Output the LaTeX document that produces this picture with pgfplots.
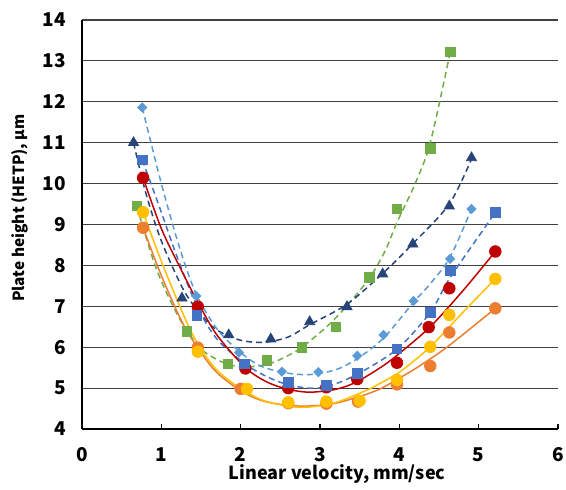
\documentclass[border=0pt]{standalone}
\usepackage{fontspec}
\setmainfont{Noto Sans CJK JP}
\usepackage{pgfplots}
\pgfplotsset{compat=1.18}
\definecolor{cnavy}{HTML}{264478}
\definecolor{cblue}{HTML}{4472C4}
\definecolor{clblue}{HTML}{5B9BD5}
\definecolor{cgreen}{HTML}{70AD47}
\definecolor{cred}{HTML}{C00000}
\definecolor{cyellow}{HTML}{FFC000}
\definecolor{corange}{HTML}{ED7D31}
\begin{document}
\begin{tikzpicture}
\useasboundingbox (-41pt,-30.5pt) rectangle (242pt,214.5pt);
\begin{axis}[
  scale only axis, width=238pt, height=204.5pt,
  xmin=0, xmax=6, ymin=4, ymax=14,
  xtick={0,1,2,3,4,5,6}, ytick={4,5,6,7,8,9,10,11,12,13,14},
  axis x line*=bottom, axis y line*=left,
  axis line style={line width=0.65pt, black},
  ymajorgrids, grid style={black!75, line width=0.55pt},
  tick align=inside, major tick length=2.5pt,
  xtick style={black, line width=0.6pt},
  ytick style={draw=none},
  /pgf/number format/assume math mode=true,
  tick label style={font=\fontsize{9.5}{10}\selectfont\bfseries},
  yticklabel style={inner sep=0pt, xshift=-8pt},
  xticklabel style={inner sep=0pt, yshift=-9pt},
  xlabel={Linear velocity, mm/sec},
  ylabel={Plate height (HETP), μm},
  xlabel style={font=\fontsize{9}{10}\selectfont\bfseries, at={(axis description cs:0.536,-0.111)}, anchor=center},
  ylabel style={font=\fontsize{7.7}{9}\selectfont\bfseries, at={(axis description cs:-0.130,0.540)}, anchor=center},
  clip=false,
]
% ---- trend curves ----
\addplot[cgreen, line width=0.75pt, dash pattern=on 3pt off 2pt, smooth] coordinates {
(0.69,9.45)(0.94,7.9)(1.235,6.68)(1.49,5.98)(1.7,5.7)(1.9,5.55)(2.12,5.52)(2.4,5.62)(2.75,5.97)(3.17,6.66)(3.59,7.6)(3.82,8.35)(3.97,9.05)(4.2,10.0)(4.39,11.0)(4.64,13.2)};
\addplot[cnavy, line width=0.75pt, dash pattern=on 3pt off 2pt, smooth] coordinates {
(0.65,11.0)(0.8,9.8)(1.0,8.6)(1.28,7.4)(1.5,6.8)(1.7,6.42)(2.0,6.17)(2.3,6.12)(2.6,6.25)(2.87,6.55)(3.34,7.05)(3.8,7.82)(4.18,8.55)(4.63,9.5)(4.91,10.6)};
\addplot[clblue, line width=0.75pt, dash pattern=on 3pt off 2pt, smooth] coordinates {
(0.76,11.86)(1.0,10.0)(1.235,8.4)(1.44,7.3)(1.7,6.45)(1.98,5.9)(2.24,5.55)(2.54,5.38)(2.87,5.33)(3.2,5.45)(3.47,5.72)(3.8,6.22)(4.18,7.1)(4.39,7.55)(4.64,8.2)(4.91,9.38)};
\addplot[cblue, line width=0.75pt, dash pattern=on 3pt off 2pt, smooth] coordinates {
(0.76,10.58)(1.0,9.3)(1.2,8.2)(1.45,7.0)(1.7,6.2)(2.05,5.6)(2.33,5.28)(2.6,5.08)(2.87,5.0)(3.1,5.04)(3.46,5.33)(3.97,5.95)(4.39,6.85)(4.64,7.7)(5.21,9.29)};
\addplot[cred, line width=0.75pt, smooth] coordinates {
(0.77,10.14)(1.0,8.9)(1.235,7.95)(1.46,7.1)(1.70,6.3)(2.06,5.5)(2.33,5.15)(2.6,4.97)(2.87,4.9)(3.2,4.97)(3.46,5.15)(3.76,5.5)(3.97,5.8)(4.39,6.5)(4.81,7.4)(5.21,8.34)};
\addplot[corange, line width=0.75pt, smooth] coordinates {
(0.77,8.92)(1.0,7.75)(1.26,6.62)(1.46,5.98)(1.7,5.38)(2.03,4.9)(2.33,4.66)(2.75,4.56)(3.17,4.62)(3.59,4.85)(3.76,4.98)(4.18,5.45)(4.6,6.0)(5.21,6.95)};
\addplot[cyellow, line width=0.75pt, smooth] coordinates {
(0.77,9.30)(1.0,8.1)(1.3,6.7)(1.47,6.05)(1.7,5.44)(2.03,4.95)(2.33,4.67)(2.75,4.53)(3.17,4.63)(3.59,4.95)(3.76,5.12)(4.01,5.4)(4.39,6.01)(4.81,6.87)(5.21,7.67)};
% ---- data markers ----
\addplot[only marks, mark=square*, mark size=2.4pt, mark options={draw=cgreen, fill=cgreen}] coordinates {
(0.69,9.45)(1.32,6.38)(1.84,5.59)(2.33,5.67)(2.77,5.99)(3.20,6.50)(3.62,7.70)(3.97,9.38)(4.39,10.86)(4.64,13.22)};
\addplot[only marks, mark=triangle*, mark size=2.9pt, mark options={draw=cnavy, fill=cnavy}] coordinates {
(0.65,11.0)(1.26,7.2)(1.85,6.3)(2.38,6.2)(2.87,6.62)(3.34,6.99)(3.79,7.79)(4.17,8.52)(4.63,9.45)(4.91,10.63)};
\addplot[only marks, mark=square*, mark size=1.6pt, mark options={rotate=45, draw=clblue, fill=clblue}] coordinates {
(0.76,11.86)(1.44,7.25)(1.98,5.87)(2.52,5.40)(2.98,5.39)(3.47,5.79)(3.80,6.30)(4.18,7.13)(4.64,8.16)(4.91,9.38)};
\addplot[only marks, mark=*, mark size=2.9pt, mark options={draw=corange, fill=corange}] coordinates {
(0.77,8.92)(1.46,5.99)(2.00,4.98)(2.60,4.63)(3.08,4.62)(3.48,4.67)(3.97,5.09)(4.39,5.54)(4.63,6.36)(5.21,6.95)};
\addplot[only marks, mark=*, mark size=2.9pt, mark options={draw=cyellow, fill=cyellow}] coordinates {
(0.77,9.30)(1.46,5.89)(2.08,4.98)(2.60,4.65)(3.08,4.67)(3.50,4.69)(3.97,5.20)(4.39,6.01)(4.63,6.79)(5.21,7.67)};
\addplot[only marks, mark=*, mark size=2.9pt, mark options={draw=cred, fill=cred}] coordinates {
(0.77,10.14)(1.46,6.99)(2.06,5.48)(2.60,5.00)(3.08,5.02)(3.47,5.22)(3.97,5.62)(4.37,6.49)(4.63,7.44)(5.21,8.34)};
\addplot[only marks, mark=square*, mark size=2.4pt, mark options={draw=cblue, fill=cblue}] coordinates {
(0.76,10.58)(1.45,6.77)(2.05,5.59)(2.60,5.14)(3.08,5.06)(3.47,5.36)(3.97,5.96)(4.39,6.85)(4.64,7.87)(5.21,9.29)};
\end{axis}
\end{tikzpicture}
\end{document}
